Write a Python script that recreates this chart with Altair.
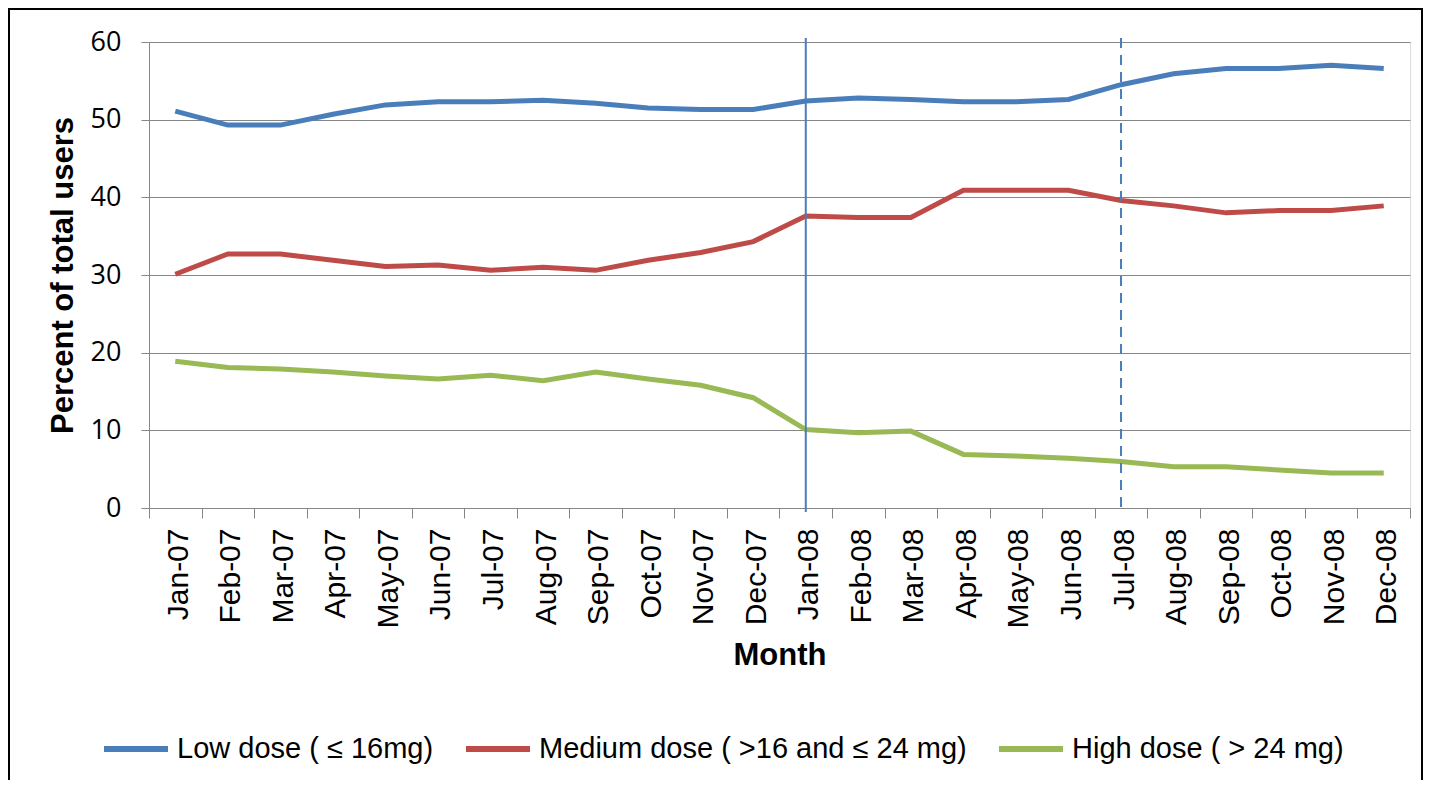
import altair as alt
import pandas as pd

months = ["Jan-07", "Feb-07", "Mar-07", "Apr-07", "May-07", "Jun-07", "Jul-07", "Aug-07",
          "Sep-07", "Oct-07", "Nov-07", "Dec-07", "Jan-08", "Feb-08", "Mar-08", "Apr-08",
          "May-08", "Jun-08", "Jul-08", "Aug-08", "Sep-08", "Oct-08", "Nov-08", "Dec-08"]

low_dose = [51.1, 49.3, 49.3, 50.7, 51.9, 52.3, 52.3, 52.5, 52.1, 51.5, 51.3, 51.3,
            52.4, 52.8, 52.6, 52.3, 52.3, 52.6, 54.5, 55.9, 56.6, 56.6, 57.0, 56.6]
medium_dose = [30.1, 32.7, 32.7, 31.9, 31.1, 31.3, 30.6, 31.0, 30.6, 31.9, 32.9, 34.3,
               37.6, 37.4, 37.4, 40.9, 40.9, 40.9, 39.6, 38.9, 38.0, 38.3, 38.3, 38.9]
high_dose = [18.9, 18.1, 17.9, 17.5, 17.0, 16.6, 17.1, 16.4, 17.5, 16.6, 15.8, 14.2,
             10.1, 9.7, 9.9, 6.9, 6.7, 6.4, 6.0, 5.3, 5.3, 4.9, 4.5, 4.5]

series_names = ["Low dose ( \u2264 16mg)", "Medium dose ( >16 and \u2264 24 mg)", "High dose ( > 24 mg)"]
series_colors = ["#4a7ebb", "#be4b48", "#98b954"]

solid_marker = ["Jan-08"]
dashed_marker = ["Jul-08"]

rows = []
for name, vals in zip(series_names, [low_dose, medium_dose, high_dose]):
    for m, v in zip(months, vals):
        rows.append({"Month": m, "Percent": v, "Series": name})
df = pd.DataFrame(rows)

AX = "#868686"
W, H = 1261, 466

x_enc = alt.X(
    "Month:N", sort=months, bandPosition=0.5,
    scale=alt.Scale(type="band", paddingInner=0, paddingOuter=0, domain=months),
    axis=alt.Axis(
        title="Month", tickBand="extent", labelAngle=-90, labelAlign="right",
        labelBaseline="middle", labelFont="Liberation Sans", labelFontSize=30,
        labelColor="black", labelPadding=10, labelOffset=3, tickSize=10, tickColor=AX,
        domainColor=AX, titleFont="Liberation Sans", titleFontSize=31,
        titleFontWeight="bold", titleColor="black", titlePadding=12, grid=False,
    ),
)

y_enc = alt.Y(
    "Percent:Q",
    scale=alt.Scale(domain=[0, 60], nice=False, zero=True),
    axis=alt.Axis(
        title="Percent of total users", values=[0, 10, 20, 30, 40, 50, 60],
        grid=True, gridColor=AX, gridWidth=1, tickSize=8, tickColor=AX, domainColor=AX,
        labelFont="Open Sans", labelFontSize=27, labelColor="black", labelPadding=20,
        titleFont="Liberation Sans", titleFontSize=31, titleFontWeight="bold",
        titleColor="black", titlePadding=11,
    ),
)

lines = alt.Chart(df).mark_line(strokeWidth=5).encode(
    x=x_enc,
    y=y_enc,
    color=alt.Color(
        "Series:N",
        scale=alt.Scale(domain=series_names, range=series_colors),
        legend=alt.Legend(
            title=None, orient="none", direction="horizontal", legendX=-48, legendY=672,
            symbolType="stroke", symbolSize=4096, symbolStrokeWidth=6,
            labelFont="Liberation Sans", labelFontSize=29, labelColor="black",
            labelLimit=800, labelOffset=6, columnPadding=20,
        ),
    ),
    detail="Series:N",
)

solid_rule = alt.Chart(pd.DataFrame({"Month": solid_marker})).mark_rule(
    color="#4a7ebb", strokeWidth=2
).encode(
    x=alt.X("Month:N", sort=months, bandPosition=0.5),
    y=alt.datum(60.5),
    y2=alt.datum(-0.5),
)

dashed_rule = alt.Chart(pd.DataFrame({"Month": dashed_marker})).mark_rule(
    color="#4a7ebb", strokeWidth=2, strokeDash=[10, 7]
).encode(
    x=alt.X("Month:N", sort=months, bandPosition=0.5),
    y=alt.datum(60.5),
    y2=alt.datum(-0.5),
)

frame = alt.Chart(pd.DataFrame({"f": [0]})).mark_rect(
    fill=None, stroke="black", strokeWidth=2
).encode(
    x=alt.value(-140), x2=alt.value(W + 12),
    y=alt.value(-33), y2=alt.value(H + 300),
)

chart = alt.layer(lines, solid_rule, dashed_rule, frame).properties(
    width=W, height=H,
    autosize=alt.AutoSizeParams(type="none"),
    padding={"left": 141, "top": 34, "right": 13, "bottom": 272},
).configure_view(stroke=None).configure(background="white")

chart.save("out.html", embed_options={"renderer": "svg", "actions": False})
